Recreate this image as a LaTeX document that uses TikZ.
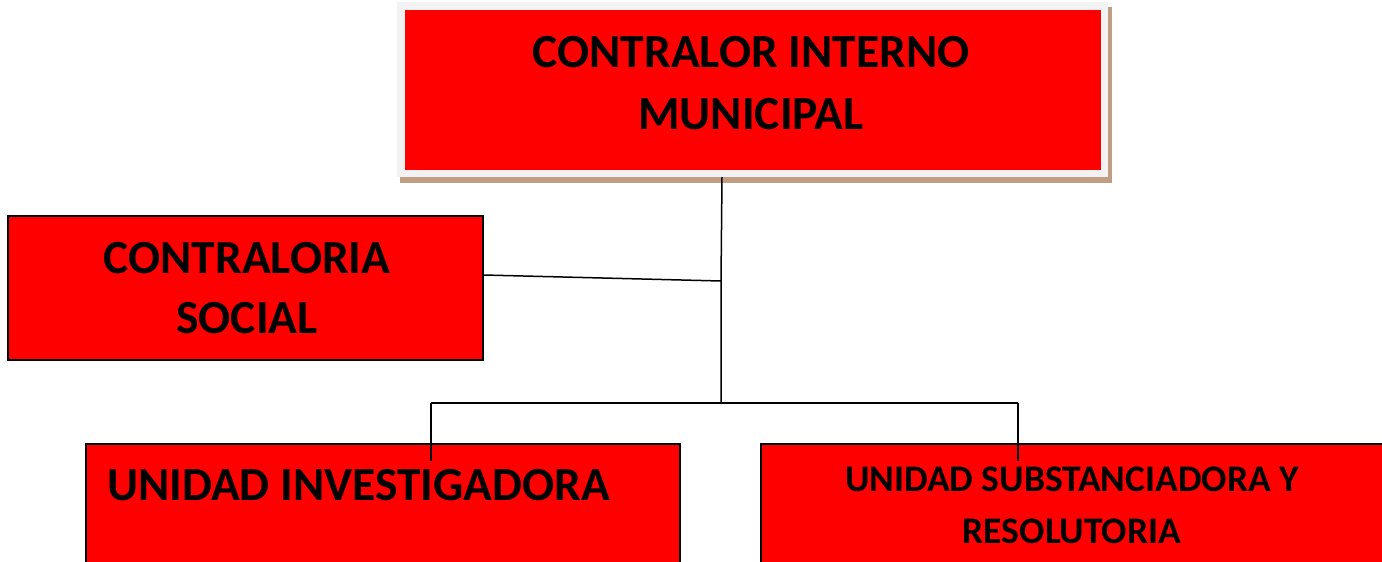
\documentclass[tikz,border=0pt]{standalone}
\usepackage{fontspec}
\setmainfont{Carlito}
\usetikzlibrary{calc}
\usetikzlibrary{backgrounds,positioning}
\definecolor{red}{rgb}{1.0,0.0,0.0}
\definecolor{framegray}{RGB}{242,242,242}
\definecolor{shadowtan}{RGB}{192,158,132}

\begin{document}
\begin{tikzpicture}[x=1pt,y=-1pt,
    box/.style={draw=black,line width=1.5pt,fill=red,inner sep=0pt},
    label big/.style={font=\bfseries\fontsize{47.5}{60}\selectfont,align=center,inner sep=0pt},
    label small/.style={font=\bfseries\fontsize{37.5}{52}\selectfont,align=center,inner sep=0pt},
    link/.style={line width=1.5pt,black}]
      \useasboundingbox (0,0) rectangle (1382,562);
      % top box with frame and shadow
      \node[draw=framegray,line width=7.5pt,fill=red,inner sep=0pt,
            minimum width=703.5pt,minimum height=167.5pt] (CIM) at (752.75,89.5) {};
      \begin{scope}[on background layer]
        \fill[shadowtan] ([xshift=3pt,yshift=-6pt]CIM.south west) rectangle ([xshift=4pt,yshift=-5pt]CIM.north east);
      \end{scope}
      \node[label big,anchor=north,font=\bfseries\fontsize{47.5}{62}\selectfont] (CIM-T) at (751,36) {CONTRALOR INTERNO\\MUNICIPAL};

      \node[box,minimum width=475pt,minimum height=144pt] (CS) at (245.5,288) {};
      \node[label big,anchor=north] (CS-T) at (247,242) {CONTRALORIA\\SOCIAL};

      \node[box,minimum width=594pt,minimum height=156pt] (UI) at (383,522) {};
      \node[label big,anchor=north west] (UI-T) at (107,469) {UNIDAD INVESTIGADORA};

      \node[box,minimum width=700pt,minimum height=156pt] (US) at (1111,522) {};
      \node[label small,anchor=north] (US-T) at (1072,467) {UNIDAD SUBSTANCIADORA Y\\RESOLUTORIA};

      % connectors
      \coordinate (hub) at (721,403);
      \coordinate (mid) at (721,281);
      \coordinate (hl) at (431,403);
      \coordinate (hr) at (1018,403);
      \draw[link] (CIM.south -| 722,0) -- (mid) -- (hub);
      \draw[link] ([yshift=13pt]CS.east) -- (mid);
      \draw[link] (hl) -- (hr);
      \draw[link] (hl) -- ++(0,58);
      \draw[link] (hr) -- ++(0,58);
\end{tikzpicture}
\end{document}
